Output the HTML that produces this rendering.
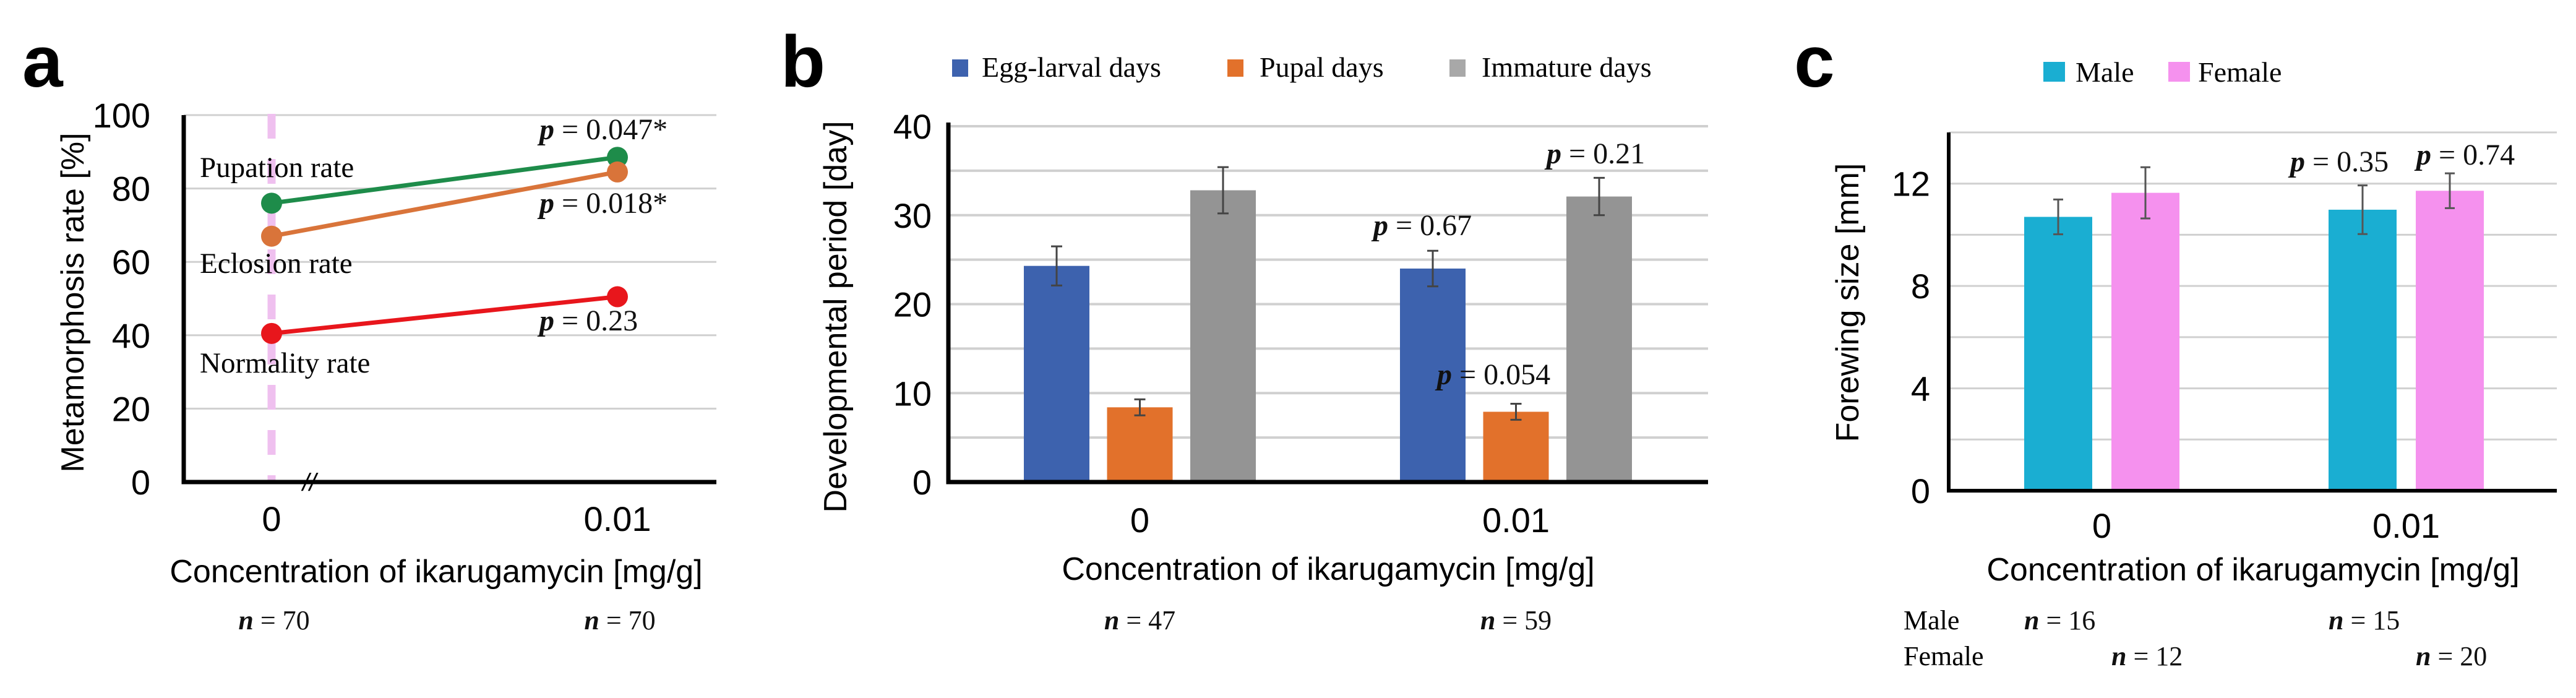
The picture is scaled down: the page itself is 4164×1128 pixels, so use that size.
<!DOCTYPE html>
<html><head><meta charset="utf-8">
<style>
html,body{margin:0;padding:0;background:#fff;}
svg{display:block;}
.sans{font-family:"Liberation Sans",Arial,sans-serif;}
.serif{font-family:"Liberation Serif","Times New Roman",serif;}
</style></head>
<body>
<svg id="fig" width="4164" height="1128" viewBox="0 0 4164 1128" xmlns="http://www.w3.org/2000/svg">
<rect width="4164" height="1128" fill="#fff"/>
<g id="pa"></g>
<g id="pb"></g>
<g id="pc"></g>
</svg>
<script>
// ---- Panel a data ----
const aCategories = ["0", "0.01"];
const aPupation = [76, 88.5];
const aEclosion = [67, 84.5];
const aNormality = [40.5, 50.5];
const aTicks = [0, 20, 40, 60, 80, 100];
const aNLabels = ["70", "70"];
// ---- Panel b data ----
const bCategories = ["0", "0.01"];
const bEggLarval = [24.3, 24.0];
const bEggLarvalErr = [2.2, 2.0];
const bPupal = [8.4, 7.9];
const bPupalErr = [0.9, 0.9];
const bImmature = [32.8, 32.1];
const bImmatureErr = [2.6, 2.1];
const bTicks = [0, 10, 20, 30, 40];
const bNLabels = ["47", "59"];
// ---- Panel c data ----
const cCategories = ["0", "0.01"];
const cMale = [10.7, 10.98];
const cMaleErr = [0.68, 0.95];
const cFemale = [11.64, 11.72];
const cFemaleErr = [1.0, 0.68];
const cTicks = [0, 4, 8, 12];
const cMaleN = ["16", "15"];
const cFemaleN = ["12", "20"];

const NS = "http://www.w3.org/2000/svg";
function mk(parent, tag, attrs, text) {
  const e = document.createElementNS(NS, tag);
  for (const k in attrs) e.setAttribute(k, attrs[k]);
  if (text !== undefined) e.textContent = text;
  parent.appendChild(e);
  return e;
}
function pText(parent, x, y, val, anchor) {
  const t = mk(parent, "text", {x: x, y: y, "font-size": 48, "text-anchor": anchor || "start", class: "serif", fill: "#111"});
  
  
  mk(t, "tspan", {"font-style": "italic", "font-weight": "bold"}, "p");
  mk(t, "tspan", {}, " = " + val);
  return t;
}
function nText(parent, x, y, val, anchor) {
  const t = mk(parent, "text", {x: x, y: y, "font-size": 44, "text-anchor": anchor || "middle", class: "serif", fill: "#111"});
  
  
  mk(t, "tspan", {"font-style": "italic", "font-weight": "bold"}, "n");
  mk(t, "tspan", {}, " = " + val);
  return t;
}

// ================= Panel a =================
(function(){
  const g = document.getElementById("pa");
  const x0 = 297, x1 = 1158, yTop = 186, yBot = 779, vmax = 100;
  const ys = v => yBot - (v / vmax) * (yBot - yTop);
  const catX = [439, 998];
  const xs = i => catX[i];
  let l = mk(g, "text", {x: 36, y: 140, "font-size": 118, "font-weight": "bold", class: "sans"}, "a");
  
  
  aTicks.forEach(v => {
    if (v > 0) {
      const gl = mk(g, "line", {x1: x0, x2: x1, y1: ys(v), y2: ys(v), stroke: "#d0d0d0", "stroke-width": 3});
      
      
    }
    const t = mk(g, "text", {x: 243, y: ys(v) + 20, "font-size": 56, "text-anchor": "end", class: "sans"}, String(v));
    
    
  });
  const dl = mk(g, "line", {x1: xs(0), x2: xs(0), y1: yTop - 2, y2: yBot, stroke: "#efc0ef", "stroke-width": 13, "stroke-dasharray": "40 33"});
  
  
  const ax = mk(g, "path", {d: `M${x0},${yTop} V${yBot} H${x1}`, fill: "none", stroke: "#000", "stroke-width": 7});
  
  
  const br = mk(g, "text", {x: 500, y: 793, "font-size": 40, "font-style": "italic", "text-anchor": "middle", class: "sans"}, "//");
  
  
  const series = [[aPupation, "#1e8c4a", "pupation-line"], [aEclosion, "#d9743a", "eclosion-line"], [aNormality, "#e8161c", "normality-line"]];
  series.forEach(([vals, col, name]) => {
    const ln = mk(g, "line", {x1: xs(0), y1: ys(vals[0]), x2: xs(1), y2: ys(vals[1]), stroke: col, "stroke-width": 7});
    
    
    vals.forEach((v, i) => {
      const c = mk(g, "circle", {cx: xs(i), cy: ys(v), r: 17, fill: col});
      
      
    });
  });
  [["Pupation rate", 286], ["Eclosion rate", 441], ["Normality rate", 602]].forEach(([s, y]) => {
    const t = mk(g, "text", {x: 323, y: y, "font-size": 47, class: "serif"}, s);
    
    
  });
  pText(g, 872, 225, "0.047*");
  pText(g, 872, 344, "0.018*");
  pText(g, 872, 534, "0.23");
  aCategories.forEach((c, i) => {
    const t = mk(g, "text", {x: xs(i), y: 858, "font-size": 56, "text-anchor": "middle", class: "sans"}, c);
    
    
    nText(g, xs(i) + 4, 1017, aNLabels[i]);
  });
  const xt = mk(g, "text", {x: 705, y: 941, "font-size": 52, "text-anchor": "middle", class: "sans"}, "Concentration of ikarugamycin [mg/g]");
  
  
  const yt = mk(g, "text", {x: 0, y: 0, "font-size": 52, "text-anchor": "middle", class: "sans", transform: "translate(135,489) rotate(-90)"}, "Metamorphosis rate [%]");
  
  
})();

// ================= Panel b =================
(function(){
  const g = document.getElementById("pb");
  const x0 = 1533, x1 = 2761, yTop = 204, yBot = 779, vmax = 40;
  const ys = v => yBot - (v / vmax) * (yBot - yTop);
  const groupStart = [1655, 2263];
  const barW = 106, step = 134.5;
  let l = mk(g, "text", {x: 1262, y: 140, "font-size": 118, "font-weight": "bold", class: "sans"}, "b");
  
  
  for (let v = 5; v <= vmax; v += 5) {
    const gl = mk(g, "line", {x1: x0, x2: x1, y1: ys(v), y2: ys(v), stroke: "#d0d0d0", "stroke-width": 4});
    
    
  }
  bTicks.forEach(v => {
    const t = mk(g, "text", {x: 1506, y: ys(v) + 20, "font-size": 56, "text-anchor": "end", class: "sans"}, String(v));
    
    
  });
  const series = [[bEggLarval, bEggLarvalErr, "#3d62ae", "egg-larval-bar"], [bPupal, bPupalErr, "#e2712b", "pupal-bar"], [bImmature, bImmatureErr, "#949494", "immature-bar"]];
  series.forEach(([vals, errs, col, name], si) => {
    vals.forEach((v, gi) => {
      const bx = groupStart[gi] + si * step;
      const r = mk(g, "rect", {x: bx, y: ys(v), width: barW, height: yBot - ys(v), fill: col});
      
      
      const cx = bx + barW / 2;
      const e = mk(g, "path", {d: `M${cx},${ys(v + errs[gi])} V${ys(v - errs[gi])} M${cx - 9},${ys(v + errs[gi])} H${cx + 9} M${cx - 9},${ys(v - errs[gi])} H${cx + 9}`, stroke: "#444", "stroke-width": 3, fill: "none"});
      
      
    });
  });
  const ax = mk(g, "path", {d: `M${x0},${yTop - 6} V${yBot} H${x1}`, fill: "none", stroke: "#000", "stroke-width": 7});
  
  
  const leg = [["Egg-larval days", "#3d62ae", 1539, 1587], ["Pupal days", "#e2712b", 1984, 2036], ["Immature days", "#a8a8a8", 2343, 2395]];
  leg.forEach(([s, col, sx, tx]) => {
    const r = mk(g, "rect", {x: sx, y: 96, width: 26, height: 28, fill: col});
    
    
    const t = mk(g, "text", {x: tx, y: 124, "font-size": 46, class: "serif"}, s);
    
    
  });
  pText(g, 2220, 380, "0.67");
  pText(g, 2500, 264, "0.21");
  pText(g, 2323, 621, "0.054");
  bCategories.forEach((c, i) => {
    const cx = groupStart[i] + step + barW / 2;
    const t = mk(g, "text", {x: cx, y: 860, "font-size": 56, "text-anchor": "middle", class: "sans"}, c);
    
    
    nText(g, cx, 1017, bNLabels[i]);
  });
  const xt = mk(g, "text", {x: 2147, y: 937, "font-size": 52, "text-anchor": "middle", class: "sans"}, "Concentration of ikarugamycin [mg/g]");
  
  
  const yt = mk(g, "text", {x: 0, y: 0, "font-size": 52, "text-anchor": "middle", class: "sans", transform: "translate(1368,512) rotate(-90)"}, "Developmental period [day]");
  
  
})();

// ================= Panel c =================
(function(){
  const g = document.getElementById("pc");
  const x0 = 3150, x1 = 4133, yTop = 214, yBot = 793, vmax = 14;
  const ys = v => yBot - (v / vmax) * (yBot - yTop);
  const groupStart = [3272, 3764];
  const barW = 110, step = 141;
  let l = mk(g, "text", {x: 2900, y: 140, "font-size": 118, "font-weight": "bold", class: "sans"}, "c");
  
  
  for (let v = 2; v <= vmax; v += 2) {
    const gl = mk(g, "line", {x1: x0, x2: x1, y1: ys(v), y2: ys(v), stroke: "#d0d0d0", "stroke-width": 3});
    
    
  }
  cTicks.forEach(v => {
    const t = mk(g, "text", {x: 3120, y: ys(v) + 20, "font-size": 56, "text-anchor": "end", class: "sans"}, String(v));
    
    
  });
  const series = [[cMale, cMaleErr, "#1aaed2", "male-bar"], [cFemale, cFemaleErr, "#f591ee", "female-bar"]];
  series.forEach(([vals, errs, col, name], si) => {
    vals.forEach((v, gi) => {
      const bx = groupStart[gi] + si * step;
      const r = mk(g, "rect", {x: bx, y: ys(v), width: barW, height: yBot - ys(v), fill: col});
      
      
      const cx = bx + barW / 2;
      const e = mk(g, "path", {d: `M${cx},${ys(v + errs[gi])} V${ys(v - errs[gi])} M${cx - 8},${ys(v + errs[gi])} H${cx + 8} M${cx - 8},${ys(v - errs[gi])} H${cx + 8}`, stroke: "#555", "stroke-width": 3, fill: "none"});
      
      
    });
  });
  const ax = mk(g, "path", {d: `M${x0},${yTop} V${yBot} H${x1}`, fill: "none", stroke: "#000", "stroke-width": 6});
  
  
  [["Male", "#1aaed2", 3303, 3355], ["Female", "#f591ee", 3505, 3553]].forEach(([s, col, sx, tx]) => {
    const r = mk(g, "rect", {x: sx, y: 100, width: 35, height: 32, fill: col});
    
    
    const t = mk(g, "text", {x: tx, y: 132, "font-size": 46, class: "serif"}, s);
    
    
  });
  pText(g, 3702, 277, "0.35");
  pText(g, 3906, 266, "0.74");
  cCategories.forEach((c, i) => {
    const cx = groupStart[i] + (step + barW) / 2;
    const t = mk(g, "text", {x: cx, y: 869, "font-size": 56, "text-anchor": "middle", class: "sans"}, c);
    
    
    nText(g, groupStart[i], 1017, cMaleN[i], "start");
    nText(g, groupStart[i] + step, 1075, cFemaleN[i], "start");
  });
  [["Male", 1017], ["Female", 1075]].forEach(([s, y]) => {
    const t = mk(g, "text", {x: 3077, y: y, "font-size": 44, class: "serif"}, s);
    
    
  });
  const xt = mk(g, "text", {x: 3642, y: 938, "font-size": 52, "text-anchor": "middle", class: "sans"}, "Concentration of ikarugamycin [mg/g]");
  
  
  const yt = mk(g, "text", {x: 0, y: 0, "font-size": 52, "text-anchor": "middle", class: "sans", transform: "translate(3004,489) rotate(-90)"}, "Forewing size [mm]");
  
  
})();
</script>
</body></html>
